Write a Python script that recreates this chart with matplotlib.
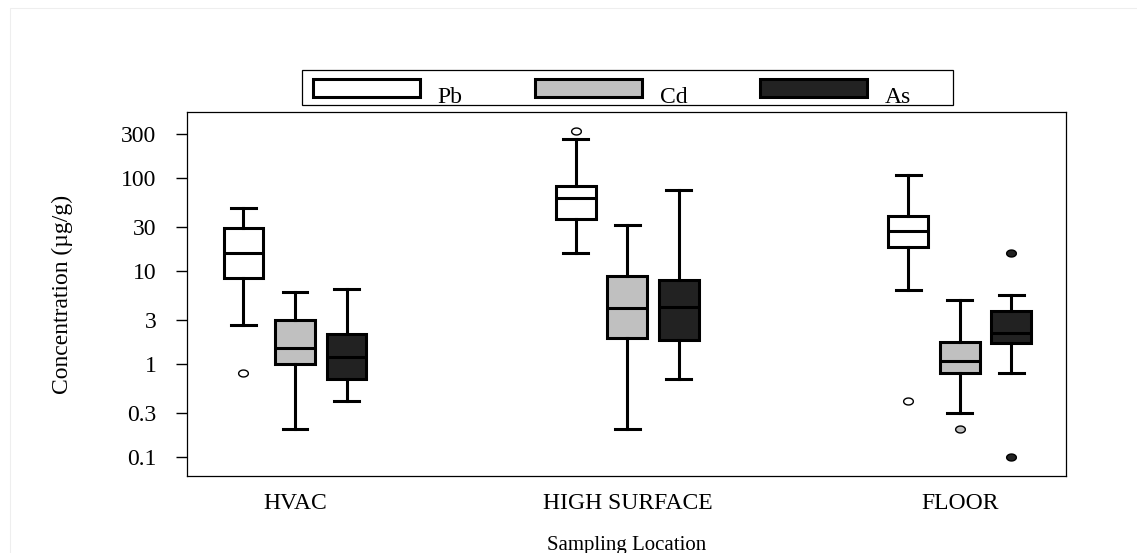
import numpy as np
import matplotlib
matplotlib.use("Agg")
import matplotlib.pyplot as plt
from matplotlib.patches import Patch, Rectangle
from matplotlib.legend_handler import HandlerPatch

plt.rcParams['font.family'] = ['Liberation Serif', 'DejaVu Serif']

# sampling locations and metals
locations = ['HVAC', 'HIGH SURFACE', 'FLOOR']
metals = ['Pb', 'Cd', 'As']
fill_colors = ['#ffffff', '#c0c0c0', '#222222']

# box statistics per metal, one value per location (µg/g)
pb_low = [2.62, 15.8, 6.3]
pb_q1 = [8.5, 36.2, 18.1]
pb_med = [15.8, 61.7, 26.9]
pb_q3 = [29.3, 83.0, 39.0]
pb_high = [48.0, 265.0, 108.0]
pb_out = [[0.81], [323.0], [0.40]]

cd_low = [0.20, 0.20, 0.30]
cd_q1 = [1.0, 1.93, 0.81]
cd_med = [1.51, 4.03, 1.09]
cd_q3 = [3.0, 8.9, 1.75]
cd_high = [5.9, 31.5, 4.88]
cd_out = [[], [], [0.20]]

as_low = [0.40, 0.695, 0.80]
as_q1 = [0.695, 1.82, 1.71]
as_med = [1.21, 4.16, 2.19]
as_q3 = [2.12, 8.06, 3.77]
as_high = [6.4, 75.0, 5.52]
as_out = [[], [], [15.5, 0.10]]

yticks = [0.1, 0.3, 1, 3, 10, 30, 100, 300]
ytick_labels = ['0.1', '0.3', '1', '3', '10', '30', '100', '300']

series = [
    (pb_low, pb_q1, pb_med, pb_q3, pb_high, pb_out),
    (cd_low, cd_q1, cd_med, cd_q3, cd_high, cd_out),
    (as_low, as_q1, as_med, as_q3, as_high, as_out),
]

fig = plt.figure(figsize=(11.37, 5.53), dpi=100)
ax = fig.add_axes([187/1137, 77/553, 879/1137, 364/553])

# faint page border
fig.patches.append(Rectangle((10/1137, -0.1), 1.2, 1.1 - 8/553, transform=fig.transFigure,
                             fill=False, edgecolor='#eeeeee', lw=0.8))

t = np.linspace(0, 2*np.pi, 40)
ellipse = list(zip(1.4*np.cos(t), np.sin(t)))

offsets = [-0.155, 0.0, 0.155]
for k, (lo, q1, med, q3, hi, out) in enumerate(series):
    stats = []
    for i in range(len(locations)):
        stats.append(dict(whislo=lo[i], q1=q1[i], med=med[i], q3=q3[i],
                          whishi=hi[i], fliers=out[i]))
    pos = [i + 1 + offsets[k] for i in range(len(locations))]
    ax.bxp(stats, positions=pos, widths=0.12, patch_artist=True,
           showfliers=True, capwidths=0.075,
           boxprops=dict(facecolor=fill_colors[k], edgecolor='black', lw=2.2),
           medianprops=dict(color='black', lw=2.2),
           whiskerprops=dict(color='black', lw=2.2),
           capprops=dict(color='black', lw=2.2),
           flierprops=dict(marker=ellipse, markersize=7, markerfacecolor=fill_colors[k],
                           markeredgecolor='black', markeredgewidth=1.0, linestyle='none'))

ax.set_yscale('log')
ax.set_ylim(0.063, 513)
ax.set_xlim(0.675, 3.32)
ax.set_yticks(yticks)
ax.set_yticklabels(ytick_labels)
ax.yaxis.set_minor_locator(matplotlib.ticker.NullLocator())
ax.set_xticks([1, 2, 3])
ax.set_xticklabels(locations)
ax.tick_params(axis='x', length=0, pad=12, labelsize=17)
ax.tick_params(axis='y', length=8, width=1, pad=14, labelsize=17)
for s in ax.spines.values():
    s.set_linewidth(0.9)

ax.set_ylabel('Concentration (µg/g)', fontsize=17)
ax.yaxis.set_label_coords(-114/879, 0.5)
ax.set_xlabel('Sampling Location', fontsize=15, labelpad=16)


# legend swatch sits a bit above the text centre, like the original
def raised_rect(legend, orig_handle, xdescent, ydescent, width, height, fontsize):
    h = 13
    return Rectangle((-xdescent, -ydescent + height/2 + 5 - h/2), width, h)


handles = [Patch(facecolor=c, edgecolor='black', lw=2.2) for c in fill_colors]
leg = ax.legend(handles, metals, ncol=3, loc='center left',
                bbox_to_anchor=(125.7/879, (476-95)/364),
                borderaxespad=0, borderpad=0, fontsize=17, handlelength=4.53,
                handleheight=1.6, handletextpad=0.76, columnspacing=3.07,
                frameon=False,
                handler_map={Patch: HandlerPatch(patch_func=raised_rect)})
ax.add_patch(Rectangle((114.7/879, (476-105)/364), 651.3/879, 35/364,
                       transform=ax.transAxes, clip_on=False, fill=False,
                       edgecolor='black', lw=0.9))

fig.savefig('out.png', dpi=100)
